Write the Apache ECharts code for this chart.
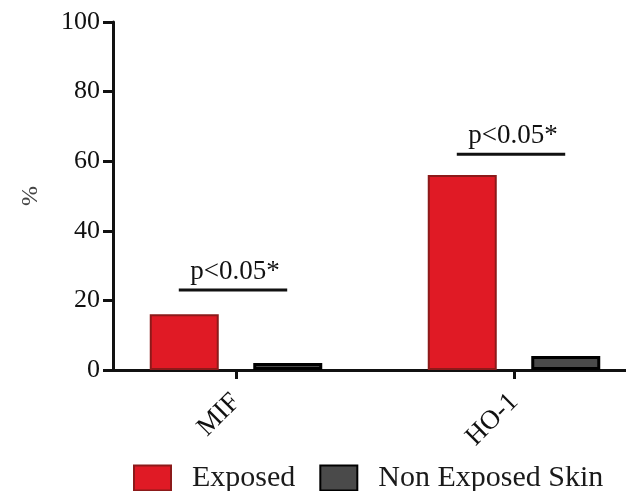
<!DOCTYPE html>
<html>
<head>
<meta charset="utf-8">
<script src="https://cdn.jsdelivr.net/npm/echarts@6/dist/echarts.min.js"></script>
<style>html,body{margin:0;padding:0;background:#fff}#c{width:626px;height:491px}</style>
</head>
<body>
<div id="c"></div>
<script>
const categories = ['MIF', 'HO-1'];
const exposed = [16, 56];
const nonExposed = [2, 4];
const yTicks = [0, 20, 40, 60, 80, 100];
const sigLevels = [23, 62];
const sigLabels = ['p<0.05*', 'p<0.05*'];
const seriesNames = ['Exposed', 'Non Exposed Skin'];

const FONT = 'Liberation Serif';
const chart = echarts.init(document.getElementById('c'));
chart.setOption({
  animation: false,
  backgroundColor: '#fff',
  textStyle: { fontFamily: FONT, color: '#111' },
  grid: [
    { left: 97, top: 22, width: 556, height: 348, outerBoundsMode: 'none', containLabel: false },
    { left: 113, top: 22, width: 540, height: 348, outerBoundsMode: 'none', containLabel: false }
  ],
  legend: {
    left: 128, top: 458,
    icon: 'rect',
    itemWidth: 37, itemHeight: 25, itemGap: 24,
    data: seriesNames,
    textStyle: { fontFamily: FONT, fontSize: 30, color: '#1a1a1a', padding: [0, 0, 0, 16] }
  },
  xAxis: [
    {
      type: 'category', gridIndex: 0, data: categories,
      axisLine: { show: false },
      axisTick: { show: true, alignWithLabel: true, length: 9, lineStyle: { color: '#111', width: 3 } },
      axisLabel: { rotate: 45, margin: 28, fontFamily: FONT, fontSize: 27, color: '#111' }
    },
    {
      type: 'value', gridIndex: 1, min: 0, max: 1,
      axisLine: { show: true, onZero: false, lineStyle: { color: '#111', width: 3 } },
      axisTick: { show: false }, axisLabel: { show: false }, splitLine: { show: false }
    }
  ],
  yAxis: [
    { type: 'value', gridIndex: 0, min: 0, max: 100, show: false, splitLine: { show: false } },
    {
      type: 'value', gridIndex: 1, min: 0, max: yTicks[yTicks.length - 1], interval: 20,
      name: '%', nameLocation: 'middle', nameGap: 70, nameRotate: 90,
      nameMoveOverlap: false,
      nameTextStyle: { fontFamily: FONT, fontSize: 24, color: '#444' },
      axisLine: { show: true, lineStyle: { color: '#111', width: 3 } },
      axisTick: { show: true, length: 10, lineStyle: { color: '#111', width: 3 } },
      axisLabel: { fontFamily: FONT, fontSize: 26, color: '#111', margin: 13 },
      splitLine: { show: false }
    }
  ],
  series: [
    {
      name: seriesNames[0], type: 'bar', xAxisIndex: 0, yAxisIndex: 0,
      data: exposed, barWidth: 69, barGap: '50%',
      itemStyle: { color: '#E01A25', borderColor: '#8C1A1A', borderWidth: 2 }
    },
    {
      name: seriesNames[1], type: 'bar', xAxisIndex: 0, yAxisIndex: 0,
      data: nonExposed, barWidth: 69, barGap: '50%',
      itemStyle: { color: '#4a4a4a', borderColor: '#000', borderWidth: 3 }
    },
    {
      type: 'custom', xAxisIndex: 0, yAxisIndex: 0, silent: true,
      data: sigLevels.map((v, i) => [i, v]),
      renderItem: function (params, api) {
        const p = api.coord([api.value(0), api.value(1)]);
        const bw = api.size([1, 0])[0];
        const half = bw * 0.195;
        const cx = p[0] - 3;
        return {
          type: 'group',
          children: [
            { type: 'line', shape: { x1: cx - half, y1: p[1], x2: cx + half, y2: p[1] },
              style: { stroke: '#111', lineWidth: 3 } },
            { type: 'text', x: p[0] - 1, y: p[1] - 5,
              style: { text: sigLabels[params.dataIndex], fill: '#111', font: '27px "Liberation Serif"',
                       textAlign: 'center', textVerticalAlign: 'bottom' } }
          ]
        };
      }
    }
  ]
});
</script>
</body>
</html>
